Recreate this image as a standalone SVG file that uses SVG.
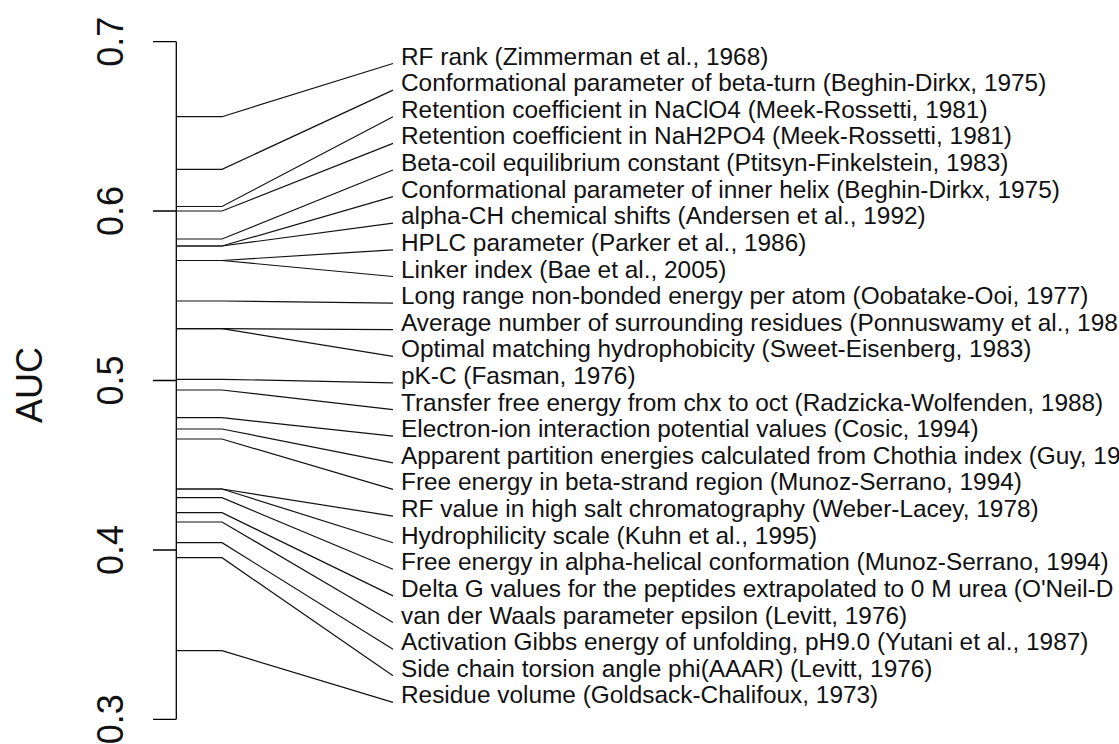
<svg xmlns="http://www.w3.org/2000/svg" width="1119" height="744" viewBox="0 0 1119 744">
<style>
.ax{stroke:#000;stroke-width:1.3;fill:none}
.ln{stroke:#111;stroke-width:1.2;fill:none}
.lab{font-family:"Liberation Sans",Arial,sans-serif;font-size:24.4px;fill:#111}
.tk{font-family:"Liberation Sans",Arial,sans-serif;font-size:36px;fill:#111;text-anchor:middle}
</style>
<rect width="1119" height="744" fill="#fff"/>
<g id="axis">
<path class="ax" d="M176.3 41.7V719.3M153 41.7H176.3M153 211H176.3M153 380.5H176.3M153 550H176.3M153 719.3H176.3"/>
<text class="tk" transform="translate(123,41.7) rotate(-90)">0.7</text>
<text class="tk" transform="translate(123,211) rotate(-90)">0.6</text>
<text class="tk" transform="translate(123,380.5) rotate(-90)">0.5</text>
<text class="tk" transform="translate(123,550) rotate(-90)">0.4</text>
<text class="tk" transform="translate(123,719.3) rotate(-90)">0.3</text>
<text class="tk" transform="translate(42,385) rotate(-90)">AUC</text>
</g>
<g id="connectors">
<path class="ln" d="M176.3 116.7H222L393 63.5"/>
<path class="ln" d="M176.3 169.3H222L393 90.1"/>
<path class="ln" d="M176.3 206.5H222L393 116.7"/>
<path class="ln" d="M176.3 211H222L393 143.4"/>
<path class="ln" d="M176.3 239H222L393 170"/>
<path class="ln" d="M176.3 246H222L393 196.6"/>
<path class="ln" d="M176.3 246H222L393 223.2"/>
<path class="ln" d="M176.3 260.5H222L393 249.8"/>
<path class="ln" d="M176.3 260.5H222L393 276.5"/>
<path class="ln" d="M176.3 301H222L393 303.1"/>
<path class="ln" d="M176.3 328.7H222L393 329.7"/>
<path class="ln" d="M176.3 328.7H222L393 356.3"/>
<path class="ln" d="M176.3 379.3H222L393 382.9"/>
<path class="ln" d="M176.3 390H222L393 409.6"/>
<path class="ln" d="M176.3 417.7H222L393 436.2"/>
<path class="ln" d="M176.3 429H222L393 462.8"/>
<path class="ln" d="M176.3 439H222L393 489.4"/>
<path class="ln" d="M176.3 489H222L393 516.1"/>
<path class="ln" d="M176.3 489H222L393 542.7"/>
<path class="ln" d="M176.3 497.7H222L393 569.3"/>
<path class="ln" d="M176.3 512.7H222L393 595.9"/>
<path class="ln" d="M176.3 522H222L393 622.5"/>
<path class="ln" d="M176.3 542.7H222L393 649.2"/>
<path class="ln" d="M176.3 557.7H222L393 675.8"/>
<path class="ln" d="M176.3 650.7H222L393 702.4"/>
</g>
<g id="labels">
<text id="l1" class="lab" x="401" y="64.5">RF rank (Zimmerman et al., 1968)</text>
<text id="l2" class="lab" x="401" y="91.1">Conformational parameter of beta-turn (Beghin-Dirkx, 1975)</text>
<text id="l3" class="lab" x="401" y="117.7">Retention coefficient in NaClO4 (Meek-Rossetti, 1981)</text>
<text id="l4" class="lab" x="401" y="144.4">Retention coefficient in NaH2PO4 (Meek-Rossetti, 1981)</text>
<text id="l5" class="lab" x="401" y="171">Beta-coil equilibrium constant (Ptitsyn-Finkelstein, 1983)</text>
<text id="l6" class="lab" x="401" y="197.6">Conformational parameter of inner helix (Beghin-Dirkx, 1975)</text>
<text id="l7" class="lab" x="401" y="224.2">alpha-CH chemical shifts (Andersen et al., 1992)</text>
<text id="l8" class="lab" x="401" y="250.8">HPLC parameter (Parker et al., 1986)</text>
<text id="l9" class="lab" x="401" y="277.5">Linker index (Bae et al., 2005)</text>
<text id="l10" class="lab" x="401" y="304.1">Long range non-bonded energy per atom (Oobatake-Ooi, 1977)</text>
<text id="l11" class="lab" x="401" y="330.7">Average number of surrounding residues (Ponnuswamy et al., 198</text>
<text id="l12" class="lab" x="401" y="357.3">Optimal matching hydrophobicity (Sweet-Eisenberg, 1983)</text>
<text id="l13" class="lab" x="401" y="383.9">pK-C (Fasman, 1976)</text>
<text id="l14" class="lab" x="401" y="410.6">Transfer free energy from chx to oct (Radzicka-Wolfenden, 1988)</text>
<text id="l15" class="lab" x="401" y="437.2">Electron-ion interaction potential values (Cosic, 1994)</text>
<text id="l16" class="lab" x="401" y="463.8">Apparent partition energies calculated from Chothia index (Guy, 19</text>
<text id="l17" class="lab" x="401" y="490.4">Free energy in beta-strand region (Munoz-Serrano, 1994)</text>
<text id="l18" class="lab" x="401" y="517.1">RF value in high salt chromatography (Weber-Lacey, 1978)</text>
<text id="l19" class="lab" x="401" y="543.7">Hydrophilicity scale (Kuhn et al., 1995)</text>
<text id="l20" class="lab" x="401" y="570.3">Free energy in alpha-helical conformation (Munoz-Serrano, 1994)</text>
<text id="l21" class="lab" x="401" y="596.9">Delta G values for the peptides extrapolated to 0 M urea (O'Neil-D</text>
<text id="l22" class="lab" x="401" y="623.5">van der Waals parameter epsilon (Levitt, 1976)</text>
<text id="l23" class="lab" x="401" y="650.2">Activation Gibbs energy of unfolding, pH9.0 (Yutani et al., 1987)</text>
<text id="l24" class="lab" x="401" y="676.8">Side chain torsion angle phi(AAAR) (Levitt, 1976)</text>
<text id="l25" class="lab" x="401" y="703.4">Residue volume (Goldsack-Chalifoux, 1973)</text>
</g>
</svg>
